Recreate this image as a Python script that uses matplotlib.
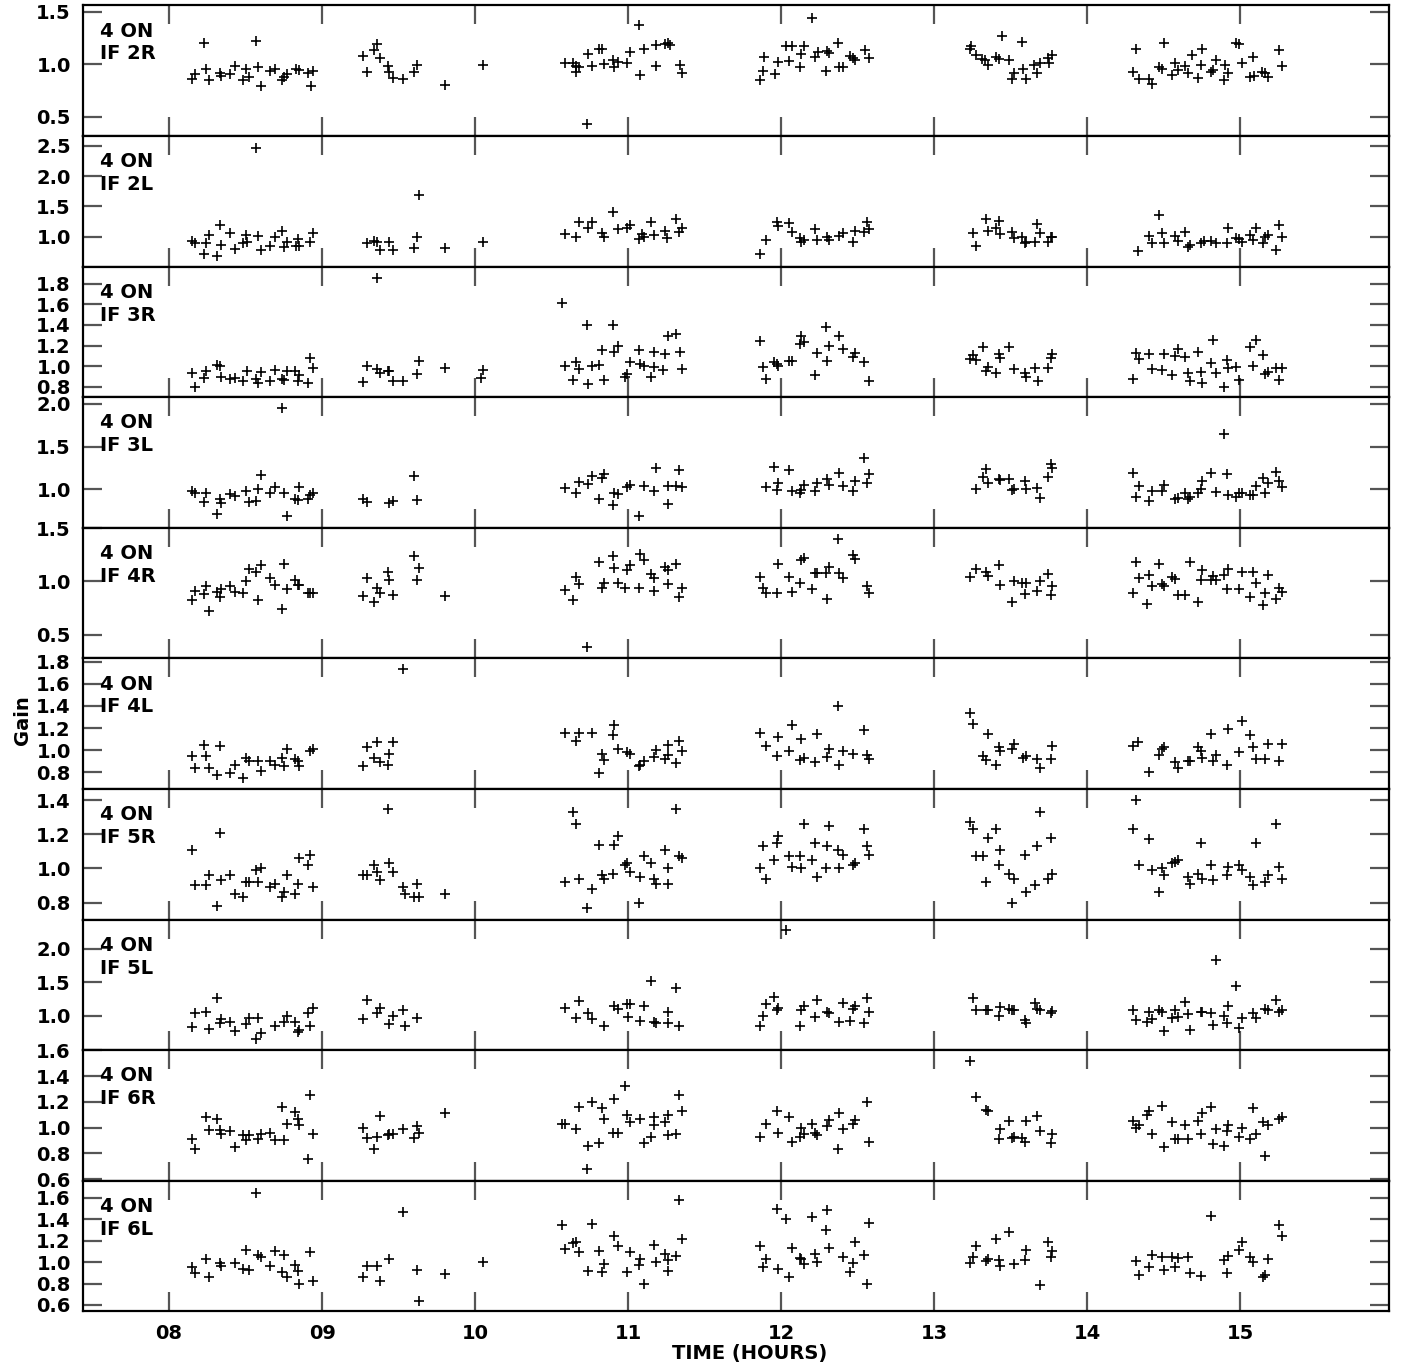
import matplotlib
matplotlib.use("Agg")
import matplotlib.pyplot as plt

# gain solutions, antenna 4, one list of (time [h], gain) per IF/polarisation
if_2r = [(8.15,0.86),(8.17,0.91),(8.23,1.20),(8.24,0.96),(8.26,0.85),(8.33,0.92),(8.34,0.89),(8.40,0.91),(8.43,0.98),
         (8.48,0.85),(8.50,0.96),(8.52,0.88),(8.57,1.22),(8.58,0.97),(8.60,0.79),(8.66,0.94),(8.69,0.96),(8.74,0.85),
         (8.75,0.88),(8.77,0.91),(8.83,0.96),(8.85,0.95),(8.91,0.92),(8.93,0.79),(8.94,0.94),
         (9.27,1.08),(9.29,0.93),(9.34,1.14),(9.36,1.19),(9.38,1.06),(9.43,0.98),(9.44,0.93),(9.46,0.87),(9.53,0.86),
         (9.60,0.93),(9.62,0.99),(9.80,0.80),(10.05,0.99),
         (10.59,1.01),(10.64,1.01),(10.66,0.93),(10.66,0.98),(10.68,0.97),(10.73,0.43),(10.74,1.10),(10.76,0.98),
         (10.81,1.15),(10.83,1.15),(10.84,1.00),(10.90,1.04),(10.91,0.97),(10.93,1.02),(10.99,1.01),(11.01,1.12),
         (11.07,1.37),(11.08,0.90),(11.10,1.15),(11.18,1.18),(11.18,0.98),(11.24,1.19),(11.26,1.20),(11.27,1.18),
         (11.34,0.99),(11.35,0.92),
         (11.86,0.85),(11.88,0.94),(11.89,1.07),(11.96,0.91),(11.98,1.02),(12.03,1.17),(12.05,1.03),(12.07,1.17),
         (12.12,0.97),(12.13,1.10),(12.15,1.17),(12.20,1.44),(12.22,1.07),(12.24,1.12),(12.29,0.94),(12.30,1.13),
         (12.31,1.11),(12.37,1.20),(12.38,0.97),(12.40,0.97),(12.45,1.08),(12.47,1.06),(12.48,1.04),(12.55,1.14),
         (12.57,1.06),
         (13.23,1.15),(13.24,1.17),(13.27,1.09),(13.31,1.05),(13.33,1.04),(13.35,0.99),(13.40,1.07),(13.42,1.05),
         (13.44,1.27),(13.49,1.04),(13.51,0.86),(13.52,0.92),(13.57,1.21),(13.58,0.96),(13.60,0.86),(13.65,0.99),
         (13.67,0.92),(13.69,1.01),(13.74,1.06),(13.75,1.01),(13.77,1.09),
         (14.30,0.93),(14.32,1.15),(14.34,0.86),(14.40,0.86),(14.42,0.81),(14.47,0.97),(14.49,0.96),(14.50,1.20),
         (14.55,0.90),(14.57,1.01),(14.59,0.95),(14.64,0.98),(14.66,0.92),(14.68,1.09),(14.72,0.87),(14.74,0.99),
         (14.75,1.15),(14.81,0.93),(14.82,0.95),(14.84,1.04),(14.89,0.85),(14.90,0.99),(14.92,0.92),(14.97,1.20),
         (14.99,1.19),(15.01,1.01),(15.06,0.88),(15.08,1.07),(15.09,0.89),(15.14,0.93),(15.16,0.92),(15.18,0.88),
         (15.25,1.14),(15.27,0.98)]

if_2l = [(8.15,0.93),(8.17,0.89),(8.23,0.71),(8.24,0.89),(8.26,1.03),(8.31,0.69),(8.33,1.19),(8.34,0.86),(8.40,1.07),
         (8.43,0.80),(8.48,0.89),(8.50,1.03),(8.51,0.92),(8.57,2.46),(8.58,1.02),(8.60,0.79),(8.66,0.85),(8.69,0.99),
         (8.74,1.10),(8.75,0.84),(8.77,0.92),(8.83,0.85),(8.84,0.97),(8.85,0.85),(8.92,0.92),(8.94,1.07),
         (9.29,0.89),(9.34,0.93),(9.36,0.92),(9.38,0.79),(9.44,0.92),(9.46,0.79),(9.60,0.81),(9.62,0.99),(9.63,1.69),
         (9.80,0.81),(10.05,0.92),
         (10.59,1.04),(10.66,1.00),(10.68,1.25),(10.74,1.15),(10.76,1.25),(10.83,1.07),(10.84,1.00),(10.90,1.40),
         (10.93,1.12),(10.99,1.15),(11.01,1.19),(11.07,0.97),(11.09,1.05),(11.10,1.00),(11.15,1.24),(11.17,1.03),
         (11.24,1.10),(11.25,0.98),(11.31,1.29),(11.33,1.08),(11.35,1.14),
         (11.86,0.71),(11.90,0.95),(11.97,1.25),(11.98,1.18),(12.05,1.23),(12.07,1.08),(12.12,0.98),(12.13,0.91),
         (12.15,0.95),(12.22,1.13),(12.23,0.95),(12.30,0.99),(12.31,0.95),(12.38,1.02),(12.40,1.07),(12.47,0.92),
         (12.48,1.10),(12.54,1.08),(12.56,1.24),(12.57,1.12),
         (13.25,1.07),(13.27,0.85),(13.34,1.30),(13.35,1.10),(13.40,1.15),(13.42,1.26),(13.43,1.05),(13.51,1.08),
         (13.52,0.98),(13.57,1.00),(13.59,0.89),(13.60,0.92),(13.66,0.92),(13.67,1.21),(13.69,1.07),(13.74,0.92),
         (13.76,0.99),(13.77,1.00),
         (14.33,0.77),(14.40,1.01),(14.42,0.89),(14.47,1.36),(14.49,1.07),(14.50,0.89),(14.57,1.01),(14.59,0.93),
         (14.64,1.08),(14.66,0.84),(14.67,0.86),(14.74,0.89),(14.76,0.93),(14.81,0.93),(14.84,0.89),(14.91,0.89),
         (14.92,1.15),(14.97,0.98),(14.99,0.96),(15.01,0.92),(15.06,1.03),(15.08,0.95),(15.10,1.15),(15.15,0.89),
         (15.16,1.00),(15.18,1.03),(15.23,0.78),(15.25,1.19),(15.27,0.99)]

if_3r = [(8.15,0.93),(8.17,0.80),(8.23,0.89),(8.24,0.95),(8.31,1.01),(8.33,1.00),(8.34,0.90),(8.40,0.88),(8.43,0.89),
         (8.48,0.86),(8.51,0.95),(8.57,0.88),(8.58,0.84),(8.60,0.94),(8.66,0.86),(8.69,0.96),(8.74,0.88),(8.75,0.87),
         (8.77,0.95),(8.82,0.95),(8.84,0.86),(8.85,0.91),(8.91,0.84),(8.92,1.08),(8.94,0.98),
         (9.27,0.85),(9.29,1.00),(9.36,1.85),(9.36,0.97),(9.38,0.93),(9.43,0.95),(9.44,0.95),(9.46,0.86),(9.53,0.86),
         (9.62,0.92),(9.63,1.05),(9.80,0.98),(10.04,0.89),(10.05,0.96),
         (10.57,1.61),(10.59,1.00),(10.64,0.87),(10.66,1.04),(10.68,0.97),(10.73,1.40),(10.74,0.83),(10.76,1.00),
         (10.81,1.01),(10.83,1.16),(10.84,0.87),(10.90,1.40),(10.91,1.14),(10.93,1.20),(10.98,0.90),(10.99,0.92),
         (11.01,1.04),(11.07,1.16),(11.08,1.02),(11.10,1.00),(11.15,0.90),(11.17,0.99),(11.17,1.14),(11.23,0.96),
         (11.24,1.12),(11.26,1.29),(11.31,1.31),(11.34,1.14),(11.35,0.97),
         (11.86,1.24),(11.88,0.99),(11.90,0.88),(11.95,1.04),(11.97,1.02),(11.98,1.00),(12.05,1.05),(12.07,1.05),
         (12.12,1.21),(12.13,1.29),(12.15,1.23),(12.22,0.91),(12.23,1.13),(12.29,1.38),(12.30,1.05),(12.31,1.20),
         (12.38,1.29),(12.40,1.17),(12.47,1.09),(12.48,1.13),(12.54,1.04),(12.57,0.86),
         (13.23,1.07),(13.25,1.11),(13.27,1.06),(13.32,1.19),(13.34,0.95),(13.35,0.99),(13.40,0.93),(13.42,1.12),
         (13.43,1.08),(13.49,1.19),(13.52,0.97),(13.59,0.93),(13.60,0.90),(13.66,0.98),(13.68,0.86),(13.74,0.98),
         (13.76,1.08),(13.77,1.12),
         (14.30,0.88),(14.32,1.13),(14.34,1.07),(14.40,1.12),(14.42,0.97),(14.49,0.96),(14.50,1.12),(14.55,0.91),
         (14.57,1.10),(14.59,1.17),(14.64,1.09),(14.66,0.93),(14.67,0.86),(14.72,1.14),(14.74,0.94),(14.75,0.84),
         (14.81,1.03),(14.82,1.25),(14.84,0.93),(14.89,0.80),(14.91,1.06),(14.92,0.98),(14.97,0.99),(14.99,0.87),
         (15.06,1.19),(15.08,1.00),(15.10,1.25),(15.15,1.11),(15.16,0.92),(15.18,0.94),(15.23,0.98),(15.25,0.87),
         (15.27,0.98)]

if_3l = [(8.15,0.98),(8.17,0.96),(8.23,0.85),(8.24,0.95),(8.31,0.71),(8.33,0.88),(8.34,0.84),(8.40,0.94),(8.43,0.92),
         (8.50,0.98),(8.52,0.85),(8.57,0.86),(8.58,1.00),(8.60,1.17),(8.66,0.96),(8.69,1.02),(8.74,1.95),(8.75,0.95),
         (8.77,0.69),(8.82,0.89),(8.84,0.87),(8.85,1.03),(8.91,0.89),(8.92,0.93),(8.94,0.96),
         (9.27,0.89),(9.29,0.85),(9.44,0.84),(9.46,0.86),(9.60,1.16),(9.62,0.87),
         (10.59,1.01),(10.66,0.95),(10.68,1.08),(10.74,1.06),(10.76,1.16),(10.81,0.88),(10.83,1.13),(10.84,1.18),
         (10.90,0.81),(10.91,0.95),(10.93,0.94),(10.99,1.02),(11.01,1.05),(11.07,0.68),(11.10,1.04),(11.17,0.98),
         (11.18,1.25),(11.26,0.82),(11.26,1.04),(11.31,1.04),(11.33,1.22),(11.35,1.02),
         (11.90,1.03),(11.95,1.26),(11.97,0.99),(11.98,1.07),(12.05,1.22),(12.07,0.98),(12.12,0.95),(12.13,0.99),
         (12.15,1.05),(12.22,0.98),(12.23,1.07),(12.30,1.12),(12.31,1.05),(12.38,1.19),(12.40,1.04),(12.47,0.98),
         (12.48,1.10),(12.54,1.37),(12.56,1.07),(12.57,1.18),
         (13.27,1.00),(13.32,1.14),(13.34,1.24),(13.35,1.07),(13.42,1.12),(13.43,1.11),(13.49,1.12),(13.51,0.99),
         (13.52,1.00),(13.59,1.10),(13.60,1.00),(13.67,1.01),(13.69,0.90),(13.74,1.14),(13.76,1.30),(13.77,1.25),
         (14.30,1.19),(14.32,0.91),(14.34,1.04),(14.40,0.86),(14.42,0.98),(14.49,0.98),(14.50,1.05),(14.57,0.88),
         (14.59,0.90),(14.64,0.96),(14.66,0.88),(14.67,0.91),(14.72,0.96),(14.74,1.00),(14.75,1.10),(14.81,1.19),
         (14.84,0.97),(14.89,1.65),(14.91,1.18),(14.92,0.93),(14.97,0.91),(14.99,0.96),(15.01,0.95),(15.06,0.93),
         (15.08,0.93),(15.10,1.04),(15.15,1.13),(15.16,0.95),(15.18,1.07),(15.23,1.20),(15.25,1.09),(15.27,1.02)]

if_4r = [(8.15,0.83),(8.17,0.91),(8.23,0.88),(8.24,0.96),(8.26,0.72),(8.31,0.90),(8.33,0.85),(8.34,0.93),(8.40,0.96),
         (8.43,0.90),(8.48,0.89),(8.50,1.00),(8.52,1.12),(8.57,1.09),(8.58,0.83),(8.60,1.15),(8.66,1.03),(8.69,0.97),
         (8.74,0.74),(8.75,1.16),(8.77,0.93),(8.82,1.01),(8.84,0.97),(8.85,0.97),(8.91,0.89),(8.92,0.89),(8.94,0.89),
         (9.27,0.86),(9.29,1.03),(9.34,0.81),(9.36,0.94),(9.38,0.89),(9.43,1.09),(9.44,1.01),(9.46,0.87),(9.60,1.24),
         (9.62,1.01),(9.63,1.13),(9.80,0.86),
         (10.59,0.92),(10.64,0.83),(10.66,1.04),(10.68,0.98),(10.73,0.39),(10.81,1.18),(10.83,0.94),(10.84,0.99),
         (10.90,1.24),(10.91,1.13),(10.93,0.99),(10.98,0.94),(10.99,1.11),(11.01,1.15),(11.07,0.94),(11.08,1.26),
         (11.10,1.20),(11.15,1.07),(11.17,1.03),(11.17,0.91),(11.24,1.14),(11.26,1.11),(11.26,0.98),(11.31,1.16),
         (11.33,0.85),(11.35,0.94),
         (11.86,1.04),(11.88,0.94),(11.90,0.89),(11.97,0.89),(11.98,1.16),(12.05,1.04),(12.07,0.90),(12.12,0.99),
         (12.13,1.20),(12.15,1.22),(12.20,0.93),(12.22,1.08),(12.23,1.08),(12.29,1.08),(12.30,0.84),(12.31,1.14),
         (12.37,1.40),(12.38,1.08),(12.40,1.03),(12.47,1.25),(12.48,1.21),(12.56,0.96),(12.57,0.89),
         (13.23,1.04),(13.27,1.12),(13.34,1.09),(13.35,1.05),(13.42,1.15),(13.43,0.97),(13.51,0.81),(13.52,1.00),
         (13.57,0.99),(13.59,0.88),(13.60,0.99),(13.67,0.91),(13.69,1.00),(13.74,1.07),(13.76,0.87),(13.77,0.96),
         (14.30,0.89),(14.32,1.18),(14.34,1.03),(14.39,0.79),(14.40,1.06),(14.42,0.96),(14.47,1.16),(14.49,0.98),
         (14.50,0.96),(14.55,1.04),(14.57,1.02),(14.59,0.87),(14.64,0.87),(14.67,1.18),(14.72,0.81),(14.74,1.01),
         (14.75,1.11),(14.81,1.01),(14.82,1.05),(14.84,1.01),(14.89,1.06),(14.91,0.93),(14.92,1.12),(14.99,0.93),
         (15.01,1.09),(15.06,0.85),(15.08,1.09),(15.10,0.99),(15.15,0.78),(15.16,0.89),(15.18,1.06),(15.23,0.84),
         (15.25,0.94),(15.27,0.90)]

if_4l = [(8.15,0.95),(8.17,0.84),(8.23,1.05),(8.24,0.95),(8.26,0.84),(8.31,0.78),(8.33,1.04),(8.40,0.79),(8.43,0.87),
         (8.48,0.75),(8.50,0.93),(8.52,0.90),(8.58,0.90),(8.60,0.81),(8.66,0.90),(8.69,0.87),(8.74,0.93),(8.75,0.86),
         (8.77,1.01),(8.82,0.92),(8.84,0.90),(8.85,0.86),(8.92,0.99),(8.94,1.01),
         (9.27,0.86),(9.29,1.03),(9.34,0.93),(9.36,1.07),(9.38,0.89),(9.43,0.87),(9.44,0.97),(9.46,1.07),(9.53,1.73),
         (10.59,1.16),(10.66,1.08),(10.68,1.16),(10.76,1.16),(10.81,0.79),(10.83,0.97),(10.84,0.91),(10.90,1.14),
         (10.91,1.23),(10.93,1.01),(10.99,0.98),(11.01,0.97),(11.07,0.86),(11.08,0.87),(11.10,0.90),(11.17,0.94),
         (11.18,1.00),(11.24,0.92),(11.26,1.05),(11.26,0.96),(11.31,0.88),(11.33,1.08),(11.35,0.99),
         (11.86,1.16),(11.90,1.04),(11.97,0.95),(11.98,1.12),(12.05,0.99),(12.07,1.23),(12.12,0.91),(12.13,1.10),
         (12.15,0.93),(12.22,0.89),(12.23,1.15),(12.30,0.94),(12.31,1.01),(12.37,1.40),(12.38,0.87),(12.40,0.99),
         (12.47,0.97),(12.54,1.18),(12.56,0.96),(12.57,0.92),
         (13.23,1.34),(13.25,1.24),(13.32,0.95),(13.34,0.91),(13.35,1.15),(13.40,0.87),(13.42,1.03),(13.43,0.99),
         (13.51,1.01),(13.52,1.06),(13.58,0.93),(13.60,0.95),(13.67,0.92),(13.69,0.84),(13.76,0.92),(13.77,1.04),
         (14.30,1.04),(14.33,1.07),(14.40,0.80),(14.47,0.96),(14.49,1.01),(14.50,1.03),(14.57,0.89),(14.59,0.84),
         (14.66,0.90),(14.67,0.90),(14.72,1.03),(14.74,0.99),(14.75,0.93),(14.81,1.15),(14.82,0.90),(14.84,0.96),
         (14.91,0.87),(14.92,1.19),(14.99,0.98),(15.01,1.26),(15.06,1.14),(15.08,1.03),(15.10,0.92),(15.16,0.92),
         (15.18,1.06),(15.25,0.90),(15.27,1.06)]

if_5r = [(8.15,1.11),(8.17,0.90),(8.24,0.90),(8.26,0.96),(8.31,0.78),(8.33,1.21),(8.34,0.93),(8.40,0.96),(8.43,0.85),
         (8.48,0.83),(8.50,0.92),(8.52,0.92),(8.57,0.99),(8.58,0.92),(8.60,1.00),(8.66,0.89),(8.69,0.91),(8.74,0.83),
         (8.75,0.86),(8.77,0.96),(8.82,0.85),(8.84,0.91),(8.85,1.06),(8.91,1.02),(8.92,1.08),(8.94,0.89),
         (9.27,0.96),(9.29,0.96),(9.34,1.02),(9.36,0.98),(9.38,0.93),(9.43,1.35),(9.44,1.03),(9.46,0.98),(9.53,0.89),
         (9.54,0.85),(9.60,0.83),(9.62,0.91),(9.63,0.83),(9.80,0.85),
         (10.59,0.92),(10.64,1.33),(10.66,1.26),(10.68,0.94),(10.73,0.77),(10.76,0.88),(10.81,1.14),(10.83,0.96),
         (10.84,0.94),(10.90,0.97),(10.91,1.14),(10.93,1.19),(10.98,1.02),(10.99,1.03),(11.01,0.98),(11.07,0.80),
         (11.08,0.95),(11.10,1.07),(11.15,1.03),(11.17,0.94),(11.18,0.91),(11.24,1.11),(11.26,0.91),(11.26,1.00),
         (11.31,1.35),(11.33,1.07),(11.35,1.06),
         (11.86,1.00),(11.88,1.13),(11.90,0.94),(11.95,1.05),(11.97,1.15),(11.98,1.19),(12.05,1.07),(12.07,1.01),
         (12.12,1.07),(12.13,1.00),(12.15,1.26),(12.20,1.05),(12.22,1.15),(12.23,0.95),(12.29,1.00),(12.30,1.13),
         (12.31,1.25),(12.37,1.11),(12.38,1.00),(12.40,1.08),(12.47,1.02),(12.48,1.03),(12.54,1.23),(12.56,1.13),
         (12.57,1.08),
         (13.23,1.27),(13.25,1.23),(13.27,1.07),(13.32,1.07),(13.34,0.92),(13.35,1.18),(13.40,1.23),(13.42,1.02),
         (13.43,1.11),(13.49,0.97),(13.51,0.80),(13.52,0.94),(13.59,1.08),(13.60,0.86),(13.66,0.90),(13.67,1.13),
         (13.69,1.33),(13.74,0.94),(13.76,1.18),(13.77,0.97),
         (14.30,1.23),(14.32,1.40),(14.34,1.02),(14.40,1.17),(14.42,0.99),(14.47,0.86),(14.49,1.00),(14.50,0.96),
         (14.55,1.03),(14.57,1.04),(14.59,1.05),(14.66,0.95),(14.67,0.91),(14.72,0.97),(14.74,1.15),(14.75,0.94),
         (14.81,1.02),(14.82,0.93),(14.91,0.96),(14.92,1.01),(14.99,1.02),(15.01,0.99),(15.06,0.95),(15.08,0.90),
         (15.10,1.15),(15.16,0.92),(15.18,0.96),(15.23,1.26),(15.25,1.01),(15.27,0.94)]

if_5l = [(8.15,0.83),(8.17,1.04),(8.24,1.05),(8.26,0.80),(8.31,1.26),(8.33,0.89),(8.34,0.95),(8.40,0.91),(8.43,0.77),
         (8.50,0.87),(8.52,0.96),(8.57,0.65),(8.58,0.97),(8.60,0.74),(8.69,0.85),(8.75,0.90),(8.77,0.99),(8.82,0.91),
         (8.84,0.76),(8.85,0.79),(8.91,1.04),(8.92,0.84),(8.94,1.12),
         (9.27,0.95),(9.29,1.23),(9.36,1.04),(9.38,1.11),(9.44,0.88),(9.46,1.00),(9.53,1.09),(9.54,0.85),(9.62,0.96),
         (10.59,1.12),(10.66,0.96),(10.68,1.22),(10.74,1.04),(10.76,0.95),(10.84,0.84),(10.91,1.15),(10.93,1.10),
         (10.99,1.17),(11.01,1.18),(11.00,0.98),(11.08,0.92),(11.10,1.14),(11.15,1.52),(11.17,0.91),(11.18,0.89),
         (11.26,0.89),(11.26,1.05),(11.31,1.41),(11.33,0.84),
         (11.86,0.85),(11.88,1.00),(11.90,1.18),(11.95,1.28),(11.97,1.09),(11.98,1.11),(12.03,2.28),(12.12,0.85),
         (12.13,1.09),(12.15,1.14),(12.22,0.98),(12.23,1.24),(12.30,1.06),(12.31,1.04),(12.38,0.91),(12.40,1.19),
         (12.45,0.92),(12.47,1.10),(12.48,1.15),(12.54,0.89),(12.56,1.26),(12.57,1.06),
         (13.25,1.26),(13.27,1.09),(13.34,1.08),(13.35,1.09),(13.42,0.99),(13.43,1.13),(13.49,1.10),(13.51,1.09),
         (13.52,1.09),(13.59,0.94),(13.60,0.89),(13.66,1.19),(13.67,1.10),(13.69,1.08),(13.76,1.04),(13.77,1.07),
         (14.30,1.09),(14.32,0.94),(14.39,0.91),(14.40,1.05),(14.42,0.95),(14.47,1.09),(14.49,1.05),(14.50,0.77),
         (14.55,0.96),(14.57,1.09),(14.59,0.98),(14.64,1.21),(14.66,1.03),(14.67,0.79),(14.74,1.05),(14.75,1.05),
         (14.81,1.04),(14.82,0.86),(14.84,1.84),(14.89,1.00),(14.91,0.89),(14.92,1.15),(14.97,1.44),(14.99,0.82),
         (15.01,0.96),(15.08,1.04),(15.10,0.97),(15.16,1.10),(15.18,1.08),(15.23,1.23),(15.25,1.06),(15.27,1.09)]

if_6r = [(8.15,0.91),(8.17,0.83),(8.24,1.08),(8.26,0.98),(8.31,1.07),(8.33,0.98),(8.34,0.95),(8.40,0.97),(8.43,0.85),
         (8.48,0.94),(8.50,0.90),(8.52,0.94),(8.58,0.91),(8.60,0.95),(8.66,0.96),(8.69,0.90),(8.74,1.16),(8.75,0.90),
         (8.77,1.03),(8.82,1.12),(8.84,1.07),(8.85,1.02),(8.91,0.76),(8.92,1.25),(8.94,0.95),
         (9.27,1.00),(9.29,0.92),(9.34,0.83),(9.36,0.93),(9.38,1.09),(9.43,0.94),(9.44,0.95),(9.46,0.95),(9.53,0.99),
         (9.60,0.92),(9.62,1.01),(9.63,0.96),(9.80,1.11),
         (10.57,1.03),(10.59,1.03),(10.66,0.99),(10.68,1.16),(10.73,0.68),(10.74,0.86),(10.76,1.20),(10.81,0.88),
         (10.83,1.15),(10.84,1.07),(10.90,0.96),(10.91,1.22),(10.93,0.96),(10.98,1.32),(10.99,1.10),(11.01,1.04),
         (11.08,1.07),(11.10,0.88),(11.15,0.93),(11.17,1.02),(11.17,1.08),(11.24,1.04),(11.26,0.94),(11.26,1.10),
         (11.31,0.95),(11.33,1.25),(11.35,1.13),
         (11.86,0.93),(11.90,1.03),(11.97,1.13),(11.98,0.96),(12.05,1.08),(12.07,0.89),(12.12,0.93),(12.13,1.00),
         (12.15,0.95),(12.20,1.03),(12.22,0.96),(12.23,0.94),(12.30,1.01),(12.31,1.06),(12.37,0.83),(12.38,1.11),
         (12.40,0.99),(12.47,1.03),(12.48,1.06),(12.56,1.20),(12.57,0.89),
         (13.23,1.52),(13.27,1.24),(13.34,1.14),(13.35,1.13),(13.42,0.91),(13.43,0.99),(13.49,1.05),(13.51,0.92),
         (13.52,0.93),(13.57,0.92),(13.59,0.89),(13.60,1.05),(13.67,1.09),(13.69,0.97),(13.76,0.88),(13.77,0.95),
         (14.30,1.05),(14.32,1.00),(14.34,1.02),(14.39,1.10),(14.40,1.13),(14.42,0.95),(14.49,1.17),(14.50,0.85),
         (14.55,1.04),(14.57,0.91),(14.59,0.91),(14.64,1.02),(14.66,0.91),(14.72,1.05),(14.74,0.95),(14.75,1.11),
         (14.81,1.16),(14.82,0.87),(14.84,0.99),(14.89,0.86),(14.91,0.97),(14.92,1.02),(14.99,0.93),(15.01,1.00),
         (15.06,0.91),(15.08,1.15),(15.10,0.95),(15.15,1.04),(15.16,0.78),(15.18,1.02),(15.25,1.07),(15.27,1.08)]

if_6l = [(8.15,0.95),(8.17,0.90),(8.24,1.03),(8.26,0.86),(8.33,0.99),(8.34,0.96),(8.43,0.99),(8.48,0.94),(8.50,1.11),
         (8.52,0.93),(8.57,1.65),(8.58,1.07),(8.60,1.05),(8.66,0.96),(8.69,1.10),(8.74,0.91),(8.75,1.07),(8.77,0.86),
         (8.82,0.97),(8.84,0.92),(8.85,0.80),(8.92,1.09),(8.94,0.82),
         (9.27,0.86),(9.29,0.96),(9.36,0.96),(9.38,0.82),(9.44,1.03),(9.53,1.47),(9.62,0.93),(9.63,0.64),(9.80,0.89),
         (10.05,1.00),
         (10.57,1.35),(10.59,1.12),(10.64,1.18),(10.66,1.19),(10.68,1.09),(10.74,0.92),(10.76,1.36),(10.81,1.10),
         (10.83,0.91),(10.84,0.98),(10.91,1.24),(10.93,1.15),(10.99,0.91),(11.01,1.09),(11.07,0.97),(11.08,1.03),
         (11.10,0.80),(11.17,1.16),(11.18,1.00),(11.24,1.08),(11.26,0.92),(11.26,1.02),(11.31,1.06),(11.33,1.58),
         (11.35,1.22),
         (11.86,1.15),(11.88,0.95),(11.90,1.03),(11.97,1.50),(11.98,0.94),(12.03,1.40),(12.05,0.86),(12.07,1.13),
         (12.12,1.04),(12.13,1.03),(12.15,0.98),(12.20,1.42),(12.22,1.08),(12.23,1.00),(12.29,1.30),(12.30,1.49),
         (12.31,1.13),(12.40,1.05),(12.45,0.91),(12.47,0.99),(12.48,1.19),(12.54,1.07),(12.56,0.80),(12.57,1.37),
         (13.23,0.99),(13.25,1.05),(13.27,1.15),(13.34,1.01),(13.35,1.03),(13.40,1.22),(13.42,1.02),(13.43,0.96),
         (13.49,1.28),(13.52,0.98),(13.59,1.02),(13.60,1.11),(13.69,0.79),(13.74,1.19),(13.76,1.05),(13.77,1.10),
         (14.32,1.01),(14.34,0.88),(14.40,0.95),(14.42,1.07),(14.49,1.05),(14.50,0.93),(14.55,1.05),(14.57,0.95),
         (14.59,1.04),(14.66,1.05),(14.67,0.90),(14.74,0.87),(14.81,1.43),(14.89,1.02),(14.91,0.90),(14.92,1.06),
         (14.99,1.11),(15.01,1.19),(15.06,1.05),(15.08,1.00),(15.15,0.86),(15.16,0.88),(15.18,1.03),(15.25,1.35),
         (15.27,1.24)]

panels = [if_2r, if_2l, if_3r, if_3l, if_4r, if_4l, if_5r, if_5l, if_6r, if_6l]
names = ["IF 2R", "IF 2L", "IF 3R", "IF 3L", "IF 4R", "IF 4L", "IF 5R", "IF 5L", "IF 6R", "IF 6L"]
antenna = "4 ON"
hours = [8, 9, 10, 11, 12, 13, 14, 15]

ylims = [(0.32, 1.56), (0.51, 2.66), (0.70, 1.965), (0.547, 2.08), (0.28, 1.503),
         (0.65, 1.83), (0.70, 1.466), (0.48, 2.44), (0.587, 1.602), (0.54, 1.76)]
yticks = [[0.5, 1.0, 1.5],
          [1.0, 1.5, 2.0, 2.5],
          [0.8, 1.0, 1.2, 1.4, 1.6, 1.8],
          [1.0, 1.5, 2.0],
          [0.5, 1.0, 1.5],
          [0.8, 1.0, 1.2, 1.4, 1.6, 1.8],
          [0.8, 1.0, 1.2, 1.4],
          [1.0, 1.5, 2.0],
          [0.6, 0.8, 1.0, 1.2, 1.4, 1.6],
          [0.6, 0.8, 1.0, 1.2, 1.4, 1.6]]

plt.rcParams['font.family'] = ['DejaVu Sans']
plt.rcParams['font.weight'] = 'bold'

fig, axes = plt.subplots(10, 1, sharex=True, figsize=(14.01, 13.70), dpi=100)
fig.subplots_adjust(left=0.0595, right=0.9914, top=0.9961, bottom=0.0428, hspace=0)

for i, ax in enumerate(axes):
    t, g = zip(*panels[i])
    ax.plot(t, g, '+', color='black', ms=7, mew=1.2)
    ax.set_xlim(7.44, 15.97)
    ax.set_ylim(*ylims[i])
    ax.set_yticks(yticks[i])
    ax.set_yticklabels(['%.1f' % v for v in yticks[i]])
    ax.set_xticks(hours)
    ax.tick_params(axis='both', direction='in', length=13.5, width=1.6, color='#555555',
                   top=True, right=True, labelsize=14, pad=9)
    for s in ax.spines.values():
        s.set_linewidth(1.6)
    ax.text(0.013, 0.875, antenna + "\n" + names[i], transform=ax.transAxes,
            ha='left', va='top', fontsize=14, fontweight='bold', linespacing=1.25)

axes[-1].set_xticklabels(['%02d' % h for h in hours])
fig.text(0.016, 0.474, 'Gain', rotation=90, ha='center', va='center', fontsize=14, fontweight='bold')
fig.text(0.535, 0.0124, 'TIME (HOURS)', ha='center', va='center', fontsize=14, fontweight='bold')

fig.savefig('out.png', dpi=100)
